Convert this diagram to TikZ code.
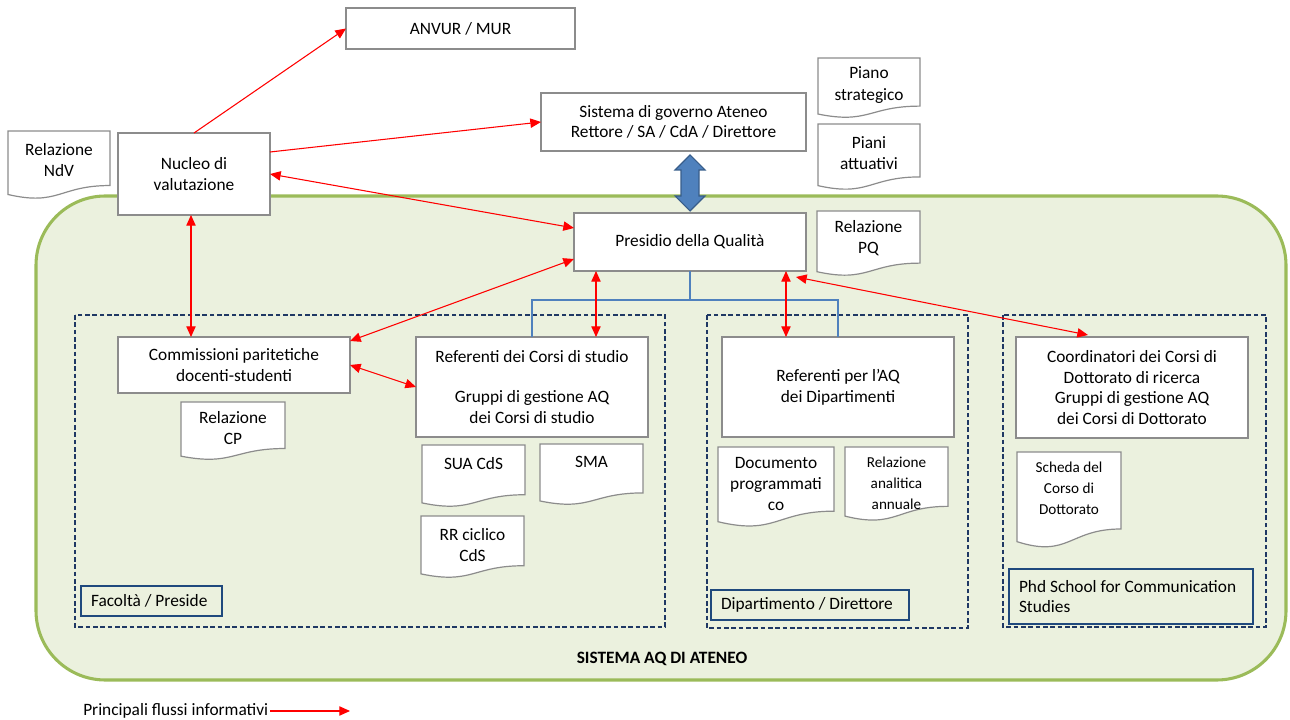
\documentclass[tikz,border=0pt]{standalone}
\usepackage{fontspec}
\setmainfont{Carlito}
\usetikzlibrary{arrows.meta,calc}
\definecolor{boxgray}{HTML}{8C8C8C}
\definecolor{aqgreen}{HTML}{9BBB59}
\definecolor{aqfill}{HTML}{EBF1DE}
\definecolor{dashblue}{HTML}{1F3864}
\definecolor{labelblue}{HTML}{1F497D}
\definecolor{arrblue}{HTML}{4F81BD}
\definecolor{arrblueline}{HTML}{385D8A}
\definecolor{flowred}{HTML}{FF0000}
\tikzset{
  mainfont/.style={font=\fontsize{13}{15.5}\selectfont},
  plainbox/.style={draw=boxgray, fill=white, line width=0.9pt, inner sep=0pt, outer sep=0pt, align=center, mainfont},
  docline/.style={draw=boxgray, fill=white, line width=0.9pt},
  doctext/.style={inner sep=0pt, align=center, font=\fontsize{13}{16}\selectfont},
  smalldoc/.style={font=\fontsize{11.4}{15.8}\selectfont},
  dashbox/.style={draw=dashblue, line width=1.5pt, dash pattern=on 3.5pt off 2pt},
  labelbox/.style={draw=labelblue, line width=1.6pt, inner ysep=0pt, inner xsep=7.5pt, align=flush left, mainfont},
  greenbox/.style={draw=aqgreen, fill=aqfill, line width=2.3pt, rounded corners=52pt},
  flow/.style={draw=flowred, line width=0.8pt},
  conn/.style={draw=arrblue, line width=0.8pt},
  bigarrow/.style={fill=arrblue, draw=arrblueline, line width=0.8pt, line join=miter},
}
\newcommand\mkbox[6]{\node[plainbox, minimum width={(#4-#2)*0.75pt}, minimum height={(#5-#3)*0.75pt}] (#1) at ({(#2+#4)/2},{(#3+#5)/2}) {#6};}
\newcommand\mkdoc[8][]{%
  \draw[docline] (#3,#4) -- (#5,#4) -- (#5,{#4+0.802*(#6-#4)})
    .. controls ({(#3+#5)/2},{#4+0.802*(#6-#4)}) and ({(#3+#5)/2},{#4+1.107*(#6-#4)}) .. (#3,{#4+0.934*(#6-#4)}) -- cycle;
  \node[doctext,#1] (#2) at ({(#3+#5)/2},#7) {#8};}
\newcommand\mklabel[6]{\node[labelbox, text width={(#4-#2-20)*0.75pt}, minimum height={(#5-#3)*0.75pt}] (#1) at ({(#2+#4)/2},{(#3+#5)/2}) {#6};}
\begin{document}
\begin{tikzpicture}[x=0.75pt,y=-0.75pt,>={Triangle[length=8pt,width=7pt]}]
\useasboundingbox (0,0) rectangle (1290,720);
% big green area
\draw[greenbox] (36,196) rectangle (1286,680);
\node[font=\bfseries\fontsize{13}{15.5}\selectfont] (sysaq) at (662,659) {SISTEMA AQ DI ATENEO};
% dashed areas
\draw[dashbox] (75,315) rectangle (665,627);
\draw[dashbox] (707,315) rectangle (968,628);
\draw[dashbox] (1003,315) rectangle (1266,627);
% labels
\mklabel{fac}{81}{586}{222}{616}{Facoltà / Preside}
\mklabel{dip}{711}{590}{909}{620}{Dipartimento / Direttore}
\mklabel{phd}{1009}{569}{1253}{624}{Phd School for Communication\\Studies}
% boxes
\mkbox{anvur}{346}{8}{575}{49}{ANVUR / MUR}
\mkbox{nuc}{118}{133}{270}{215}{Nucleo di\\valutazione}
\mkbox{sis}{541}{93}{806}{151}{Sistema di governo Ateneo\\Rettore / SA / CdA / Direttore}
\mkbox{pq}{574}{213}{806}{271}{Presidio della Qualità}
\mkbox{comm}{118}{337}{350}{393}{Commissioni paritetiche\\docenti-studenti}
\mkbox{ref}{416}{337}{648}{437}{Referenti dei Corsi di studio\\[15pt]Gruppi di gestione AQ\\dei Corsi di studio}
\mkbox{rpa}{722}{337}{954}{437}{Referenti per l’AQ\\dei Dipartimenti}
\mkbox{coord}{1016}{337}{1248}{438}{Coordinatori dei Corsi di\\Dottorato di ricerca\\Gruppi di gestione AQ\\dei Corsi di Dottorato}
% documents
\mkdoc{ndv}{8}{131}{110}{199}{160}{Relazione\\NdV}
\mkdoc{pstrat}{818}{58}{920}{118}{85}{Piano\\strategico}
\mkdoc{patt}{818}{124}{920}{190}{153}{Piani\\attuativi}
\mkdoc{rpq}{817}{211}{920}{276}{238}{Relazione\\PQ}
\mkdoc{rcp}{181}{402}{285}{460}{428}{Relazione\\CP}
\mkdoc{sua}{422}{445}{525}{507}{464}{SUA CdS}
\mkdoc{sma}{540}{444}{643}{505}{462}{SMA}
\mkdoc{rr}{421}{516}{524}{578}{545}{RR ciclico\\CdS}
\mkdoc{docp}{718}{447}{834}{527}{484}{Documento\\programmati\\co}
\mkdoc[smalldoc]{ran}{845}{447}{948}{521}{483}{Relazione\\analitica\\annuale}
\mkdoc[smalldoc]{sch}{1017}{452}{1121}{548}{488}{Scheda del\\Corso di\\Dottorato}
% blue organisational connector
\coordinate (bj) at ($(pq.south)+(0,29)$);
\draw[conn] (pq.south) -- (bj);
\draw[conn] (ref.north) |- (bj) -| (rpa.north);
% big double arrow between governance and presidio
\coordinate (bt) at ($(pq.north)+(0,-2)$);
\coordinate (tt) at ($(pq.north |- sis.south)+(0,4)$);
\draw[bigarrow] (tt) -- ($(tt)+(15,15)$) -- ($(tt)+(9,15)$) -- ($(bt)+(9,-15)$) -- ($(bt)+(15,-15)$) -- (bt)
  -- ($(bt)+(-15,-15)$) -- ($(bt)+(-9,-15)$) -- ($(tt)+(-9,15)$) -- ($(tt)+(-15,15)$) -- cycle;
% information flows
\draw[flow,->] (nuc.north) -- (anvur.west);
\draw[flow,->] ($(nuc.north east)+(0,19)$) -- (sis.west);
\draw[flow,<->] (nuc.east) -- ($(pq.north west)+(0,15)$);
\coordinate (n4) at ($(nuc.south)+(-3,0)$);
\draw[flow,<->] (n4) -- (n4 |- comm.north);
\draw[flow,<->] ($(pq.south west)+(0,-12)$) -- ($(comm.north east)+(0,4)$);
\draw[flow,<->] (comm.east) -- (ref.west);
\coordinate (p7) at ($(pq.south west)+(22,0)$);
\draw[flow,<->] (p7) -- (p7 |- ref.north);
\coordinate (p8) at ($(pq.south east)+(-20,0)$);
\draw[flow,<->] (p8) -- (p8 |- rpa.north);
\draw[flow,<->] ($(pq.south east)+(-10,6)$) -- ($(coord.north west)+(72,-2)$);
% legend
\node[mainfont, anchor=west, inner sep=0pt] (leg) at (83,711) {Principali flussi informativi};
\coordinate (legend end) at (350,711);
\draw[flow,->] ($(leg.east)+(2,0)$) -- (legend end);
\end{tikzpicture}
\end{document}
